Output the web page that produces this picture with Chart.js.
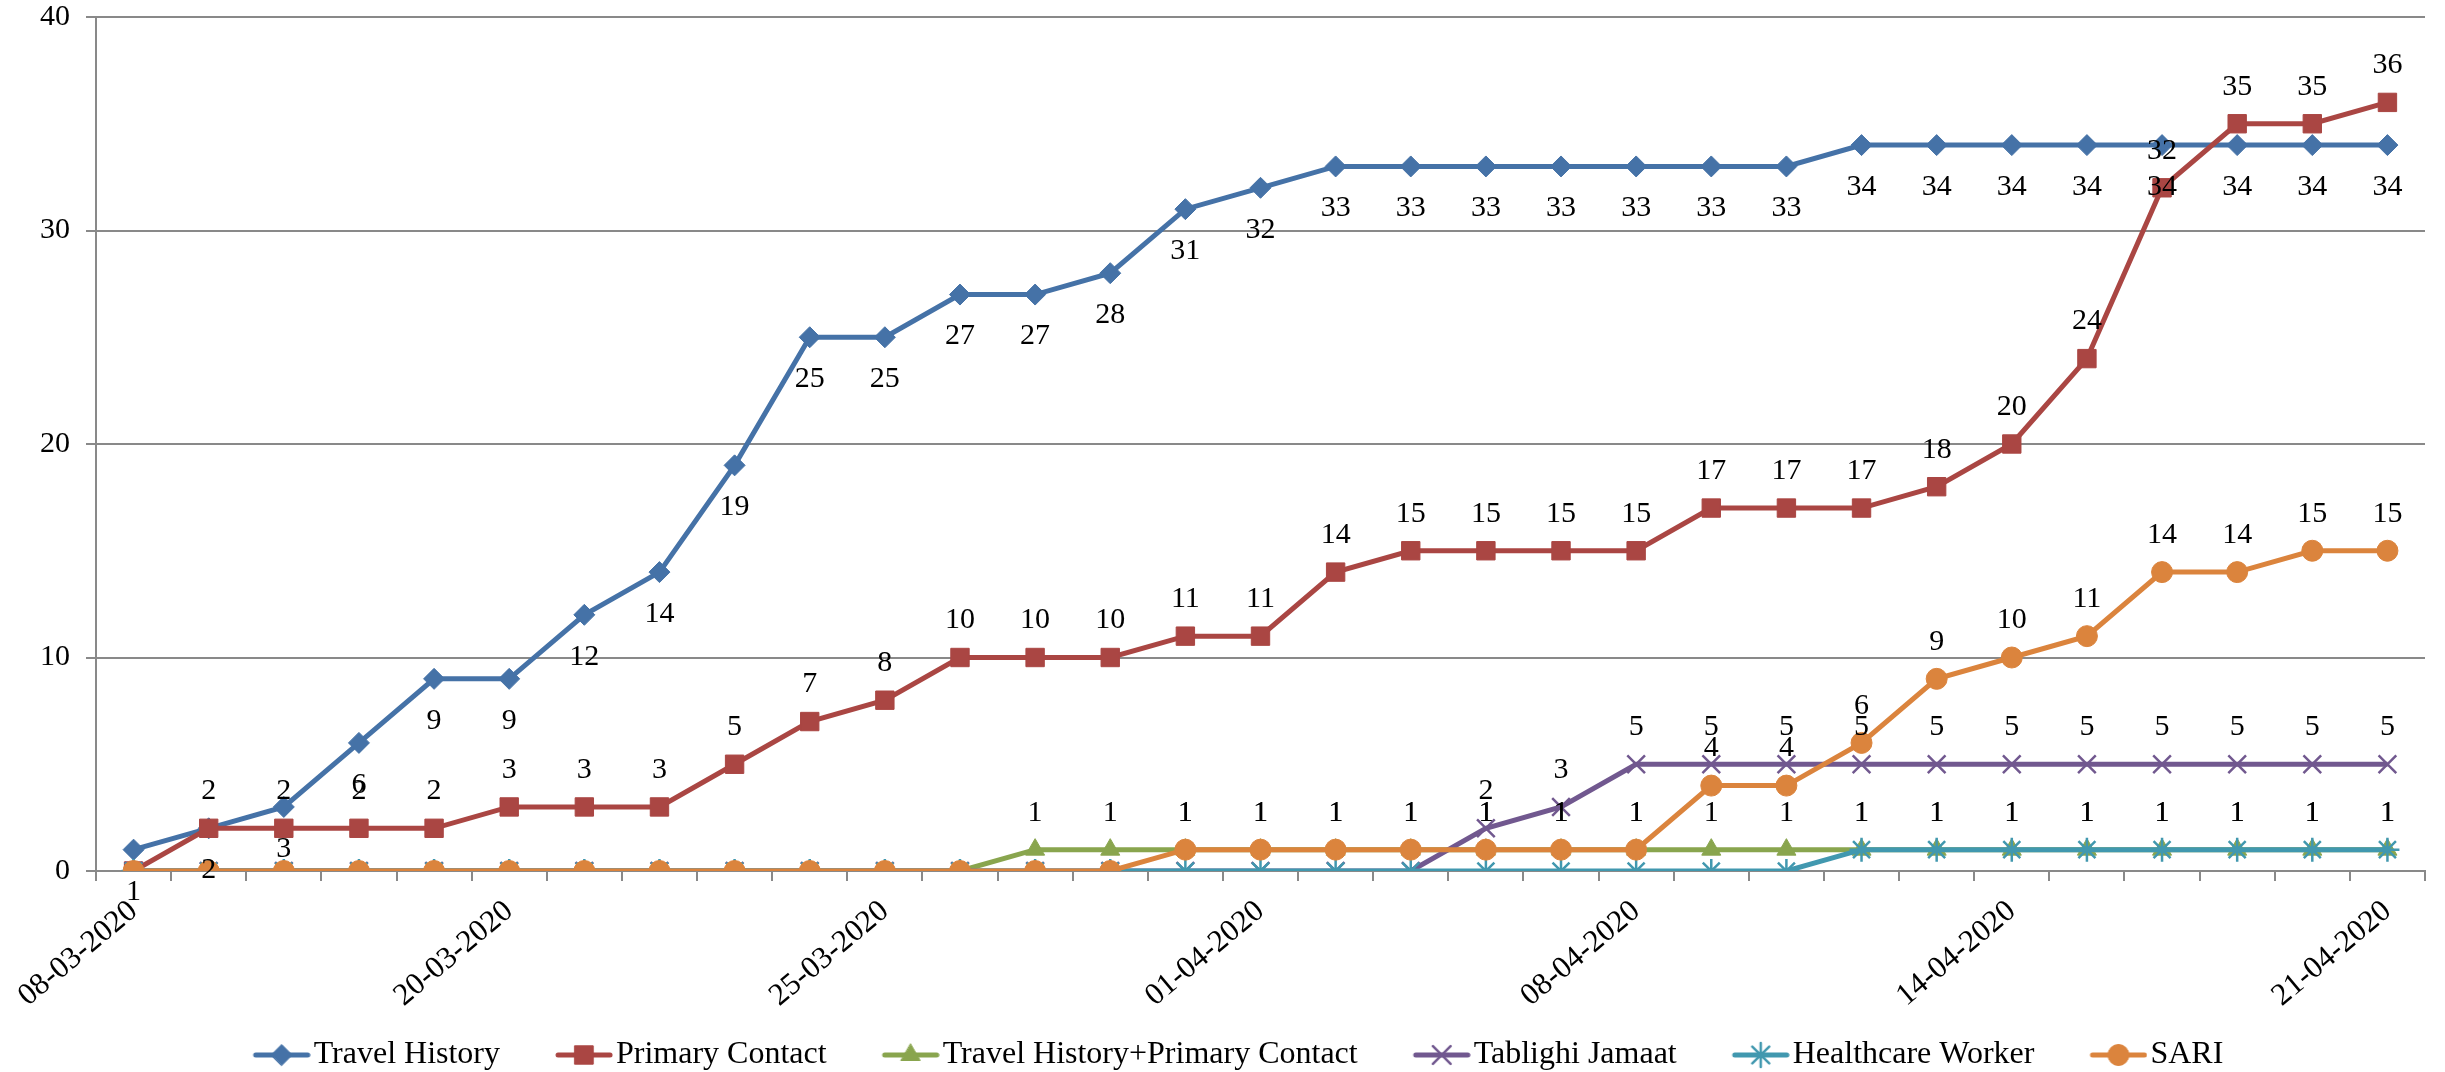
<!DOCTYPE html>
<html>
<head>
<meta charset="utf-8">
<script src="https://cdn.jsdelivr.net/npm/chart.js@4.4.1/dist/chart.umd.min.js"></script>
<style>
  html, body { margin: 0; padding: 0; background: #fff; }
  #wrap { width: 2445px; height: 1072px; }
</style>
</head>
<body>
<div id="wrap"><canvas id="casesChart" width="2445" height="1072"></canvas></div>
<script>
// tick labels (only every fifth date is printed on the axis)
const dateLabels = [
    '08-03-2020', '', '', '', '', '20-03-2020', '', '', '', '', '25-03-2020', '', '', '', '',
    '01-04-2020', '', '', '', '', '08-04-2020', '', '', '', '', '14-04-2020', '', '', '', '',
    '21-04-2020'
];

// series values
const travelHistory = [1, 2, 3, 6, 9, 9, 12, 14, 19, 25, 25, 27, 27, 28, 31, 32, 33, 33, 33, 33, 33, 33, 33, 34, 34, 34, 34, 34, 34, 34, 34];
const primaryContact = [0, 2, 2, 2, 2, 3, 3, 3, 5, 7, 8, 10, 10, 10, 11, 11, 14, 15, 15, 15, 15, 17, 17, 17, 18, 20, 24, 32, 35, 35, 36];
const travelPlusContact = [0, 0, 0, 0, 0, 0, 0, 0, 0, 0, 0, 0, 1, 1, 1, 1, 1, 1, 1, 1, 1, 1, 1, 1, 1, 1, 1, 1, 1, 1, 1];
const tablighiJamaat = [0, 0, 0, 0, 0, 0, 0, 0, 0, 0, 0, 0, 0, 0, 0, 0, 0, 0, 2, 3, 5, 5, 5, 5, 5, 5, 5, 5, 5, 5, 5];
const healthcareWorker = [0, 0, 0, 0, 0, 0, 0, 0, 0, 0, 0, 0, 0, 0, 0, 0, 0, 0, 0, 0, 0, 0, 0, 1, 1, 1, 1, 1, 1, 1, 1];
const sari = [0, 0, 0, 0, 0, 0, 0, 0, 0, 0, 0, 0, 0, 0, 1, 1, 1, 1, 1, 1, 1, 4, 4, 6, 9, 10, 11, 14, 14, 15, 15];

const seriesNames = ['Travel History', 'Primary Contact', 'Travel History+Primary Contact', 'Tablighi Jamaat', 'Healthcare Worker', 'SARI'];

const FONT = "'Liberation Serif', 'Times New Roman', serif";
const GRID = '#898989';

// marker look per series
const styles = [
    { color: '#4572A7', point: 'rectRot', radius: 10.5, border: 1 },
    { color: '#AA4643', point: 'rect', radius: 13, border: 1 },
    { color: '#89A54E', point: 'triangle', radius: 11, border: 1 },
    { color: '#71588F', point: 'crossRot', radius: 12.5, border: 2.5 },
    { color: '#4198AF', point: 'star', radius: 12, border: 2.5 },
    { color: '#DB843D', point: 'circle', radius: 10.5, border: 1 }
];

const allSeries = [travelHistory, primaryContact, travelPlusContact, tablighiJamaat, healthcareWorker, sari];

// legend box is 96 wide; the icon picture is wider and keeps the
// "line + marker" at its right end so it sits close to the text
const LEGEND_BOX = 96;
const ICON_W = LEGEND_BOX + 26;

function makeLegendIcon(st) {
    const c = document.createElement('canvas');
    c.width = ICON_W;
    c.height = 28;
    const g = c.getContext('2d');
    const x0 = ICON_W - 58;
    g.strokeStyle = st.color;
    g.lineWidth = 5;
    g.lineCap = 'round';
    g.beginPath();
    g.moveTo(x0 + 3, 14);
    g.lineTo(x0 + 55, 14);
    g.stroke();
    g.fillStyle = st.color;
    g.strokeStyle = st.color;
    g.lineWidth = st.border;
    Chart.helpers.drawPoint(g, { pointStyle: st.point, radius: st.radius, rotation: 0, borderWidth: st.border }, x0 + 29, 14);
    return c;
}
const legendIcons = styles.map(makeLegendIcon);

// value labels: first series below its points, the others above, zeros skipped
const valueLabels = {
    id: 'valueLabels',
    afterDatasetsDraw(chart) {
        const ctx = chart.ctx;
        ctx.save();
        ctx.font = '30px ' + FONT;
        ctx.fillStyle = '#000';
        ctx.textAlign = 'center';
        ctx.textBaseline = 'middle';
        chart.data.datasets.forEach((ds, i) => {
            const meta = chart.getDatasetMeta(i);
            meta.data.forEach((pt, j) => {
                const v = ds.data[j];
                if (!v) return;
                const dy = i === 0 ? 42 : -37;
                ctx.fillText(String(v), pt.x, pt.y + dy);
            });
        });
        ctx.restore();
    }
};

const datasets = allSeries.map((values, i) => ({
    label: seriesNames[i],
    data: values,
    borderColor: styles[i].color,
    backgroundColor: styles[i].color,
    borderWidth: 5,
    pointStyle: styles[i].point,
    pointRadius: styles[i].radius,
    pointBorderWidth: styles[i].border,
    pointBackgroundColor: styles[i].color,
    pointBorderColor: styles[i].color,
    tension: 0,
    fill: false,
    order: allSeries.length - 1 - i // later series drawn on top
}));

const ctx = document.getElementById('casesChart').getContext('2d');
const chart = new Chart(ctx, {
    type: 'line',
    data: {
        labels: dateLabels,
        datasets: datasets
    },
    options: {
        responsive: false,
        animation: false,
        devicePixelRatio: 1,
        layout: {
            padding: { top: 17, right: 20, bottom: -9, left: 0 }
        },
        scales: {
            x: {
                offset: true,
                grid: {
                    offset: true,
                    drawOnChartArea: false,
                    drawTicks: true,
                    tickLength: 10,
                    color: GRID,
                    lineWidth: 2
                },
                border: { display: true, color: GRID, width: 2 },
                ticks: {
                    autoSkip: false,
                    maxRotation: 40,
                    minRotation: 40,
                    padding: 12,
                    color: '#000',
                    font: { family: FONT, size: 31 }
                },
                afterFit(scale) {
                    scale.height = 164;
                }
            },
            y: {
                min: 0,
                max: 40,
                ticks: {
                    stepSize: 10,
                    padding: 16,
                    color: '#000',
                    font: { family: FONT, size: 30 }
                },
                grid: {
                    color: GRID,
                    lineWidth: 2,
                    tickLength: 10
                },
                border: { display: true, color: GRID, width: 2 },
                afterFit(scale) {
                    scale.width = 96;
                    scale.paddingTop = 0;
                    scale.paddingBottom = 0;
                }
            }
        },
        plugins: {
            tooltip: { enabled: false },
            legend: {
                display: true,
                position: 'bottom',
                labels: {
                    usePointStyle: true,
                    pointStyleWidth: LEGEND_BOX,
                    padding: 4,
                    color: '#000',
                    font: { family: FONT, size: 32 },
                    generateLabels(chart) {
                        const items = Chart.defaults.plugins.legend.labels.generateLabels(chart);
                        items.sort((a, b) => a.datasetIndex - b.datasetIndex);
                        items.forEach(it => {
                            it.pointStyle = legendIcons[it.datasetIndex];
                            it.rotation = 0;
                        });
                        return items;
                    }
                }
            }
        }
    },
    plugins: [valueLabels]
});
</script>
</body>
</html>
